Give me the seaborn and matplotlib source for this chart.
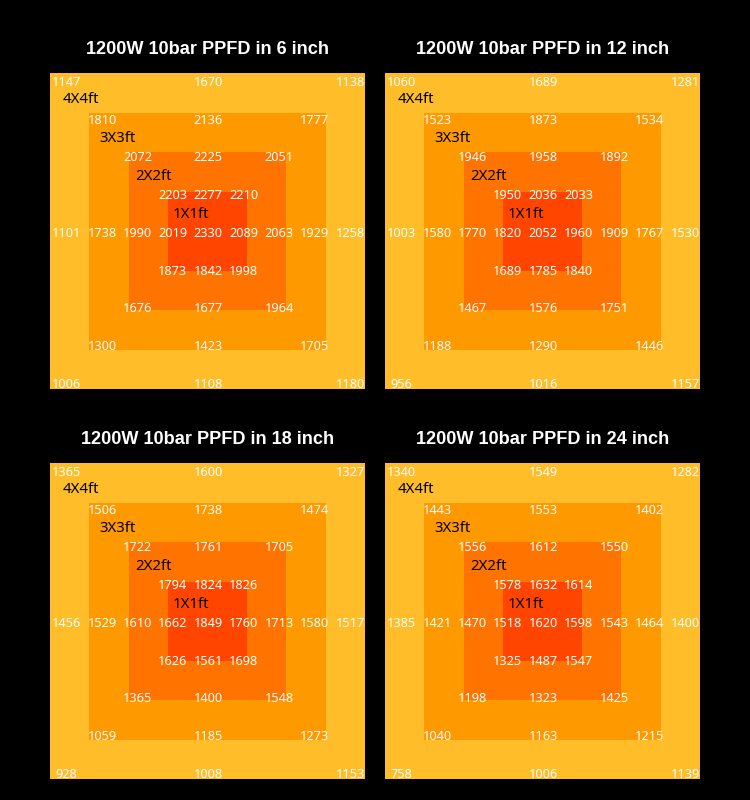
import numpy as np
import matplotlib
matplotlib.use('Agg')
import matplotlib.pyplot as plt
from matplotlib.colors import ListedColormap
import seaborn as sns

# PPFD readings, one list per printed row (top to bottom)
heights = ['6', '12', '18', '24']

ppfd_6 = [[1147, 1670, 1138],
          [1810, 2136, 1777],
          [2072, 2225, 2051],
          [2203, 2277, 2210],
          [1101, 1738, 1990, 2019, 2330, 2089, 2063, 1929, 1258],
          [1873, 1842, 1998],
          [1676, 1677, 1964],
          [1300, 1423, 1705],
          [1006, 1108, 1180]]

ppfd_12 = [[1060, 1689, 1281],
           [1523, 1873, 1534],
           [1946, 1958, 1892],
           [1950, 2036, 2033],
           [1003, 1580, 1770, 1820, 2052, 1960, 1909, 1767, 1530],
           [1689, 1785, 1840],
           [1467, 1576, 1751],
           [1188, 1290, 1446],
           [956, 1016, 1157]]

ppfd_18 = [[1365, 1600, 1327],
           [1506, 1738, 1474],
           [1722, 1761, 1705],
           [1794, 1824, 1826],
           [1456, 1529, 1610, 1662, 1849, 1760, 1713, 1580, 1517],
           [1626, 1561, 1698],
           [1365, 1400, 1548],
           [1059, 1185, 1273],
           [928, 1008, 1153]]

ppfd_24 = [[1340, 1549, 1282],
           [1443, 1553, 1402],
           [1556, 1612, 1550],
           [1578, 1632, 1614],
           [1385, 1421, 1470, 1518, 1620, 1598, 1543, 1464, 1400],
           [1325, 1487, 1547],
           [1198, 1323, 1425],
           [1040, 1163, 1215],
           [758, 1006, 1139]]

zone_labels = ['4X4ft', '3X3ft', '2X2ft', '1X1ft']
zone_colors = ['#FFBD2A', '#FF9900', '#FF7300', '#FF4500']

# which of the 9 grid columns each printed row uses
row_cols = [[0, 4, 8], [1, 4, 7], [2, 4, 6], [3, 4, 5],
            list(range(9)),
            [3, 4, 5], [2, 4, 6], [1, 4, 7], [0, 4, 8]]

# 8x8 cells of half a foot, ring index 0 (4x4) .. 3 (1x1)
idx = np.arange(8)
zones = np.minimum(np.minimum.outer(idx, idx), np.minimum.outer(7 - idx, 7 - idx))

fig = plt.figure(figsize=(7.5, 8), dpi=100, facecolor='black')
panel_pos = [(50, 73), (385, 73), (50, 463), (385, 463)]
num_font = ['Noto Sans', 'DejaVu Sans']

for h, data, (px, py) in zip(heights, [ppfd_6, ppfd_12, ppfd_18, ppfd_24], panel_pos):
    ax = fig.add_axes([px / 750, 1 - (py + 316) / 800, 315 / 750, 316 / 800])
    sns.heatmap(zones, cmap=ListedColormap(zone_colors), vmin=-0.5, vmax=3.5,
                cbar=False, xticklabels=False, yticklabels=False, ax=ax)
    ax.set_title(f'1200W 10bar PPFD in {h} inch', color='white', fontsize=13.1,
                 fontweight='bold', family='Liberation Sans', pad=14)

    for i, (vals, cols) in enumerate(zip(data, row_cols)):
        y = 4.06 + (i - 4) * 0.955
        for v, j in zip(vals, cols):
            x = 4.02 + (j - 4) * 0.9
            ax.text(x, y, str(v), color='white', fontsize=9.2, family=num_font,
                    ha='center', va='center')

    for k, lab in enumerate(zone_labels):
        ax.text(0.78 + k * 0.93, 0.68 + k * 0.97, lab, color='black', fontsize=10.8,
                family=num_font, ha='center', va='center')

fig.savefig('out.png', dpi=100, facecolor='black')
